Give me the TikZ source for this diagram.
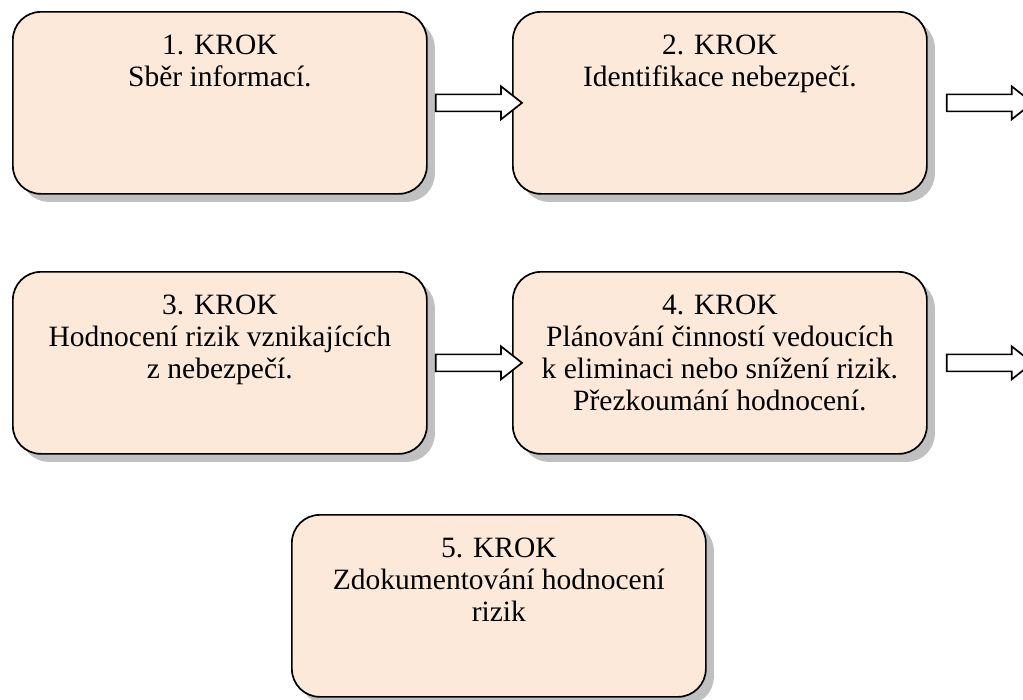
\documentclass[tikz,border=0pt]{standalone}
\usepackage{fontspec}
\setmainfont{Liberation Serif}
\usetikzlibrary{calc,shadows}
\definecolor{boxfill}{HTML}{FDE9D9}
\definecolor{shadowgray}{HTML}{C0C0C0}
\tikzset{
  krokbox/.style={draw=black, line width=1.7pt, fill=boxfill, rounded corners=28pt,
    minimum width=414pt, minimum height=182pt, inner sep=0pt, anchor=north west,
    drop shadow={shadow xshift=8pt, shadow yshift=-8pt, fill=shadowgray, opacity=1}},
  kroktext/.style={anchor=north, align=center, inner sep=0pt,
    font=\fontsize{29.5}{32}\selectfont},
  blockarrow/.style={draw=black, line width=1.7pt, fill=white, line join=miter}
}
\newcommand{\barrow}[2]{%
  \draw[blockarrow] let \p1=(#1), \p2=(#2) in
    (\x1,\y1+8.5pt) -- (\x2-21pt,\y1+8.5pt) -- (\x2-21pt,\y1+16.5pt) -- (\x2,\y1)
    -- (\x2-21pt,\y1-16.5pt) -- (\x2-21pt,\y1-8.5pt) -- (\x1,\y1-8.5pt) -- cycle;}
\begin{document}
\begin{tikzpicture}[x=1pt,y=-1pt]
\useasboundingbox (0,0) rectangle (1023,699);
\clip (0,0) rectangle (1023,699);
\node[krokbox] (b1) at (12,11) {};
\node[krokbox] (b2) at (512,11) {};
\node[krokbox] (b3) at (12,271) {};
\node[krokbox] (b4) at (512,271) {};
\node[krokbox] (b5) at (291,514) {};
\node[kroktext] (t1) at ($(b1.north)+(0,24)$) {1. KROK\\Sběr informací.};
\node[kroktext] (t2) at ($(b2.north)+(0,24)$) {2. KROK\\Identifikace nebezpečí.};
\node[kroktext] (t3) at ($(b3.north)+(0,24)$) {3. KROK\\Hodnocení rizik vznikajících\\z nebezpečí.};
\node[kroktext] (t4) at ($(b4.north)+(0,24)$) {4. KROK\\Plánování činností vedoucích\\k eliminaci nebo snížení rizik.\\Přezkoumání hodnocení.};
\node[kroktext] (t5) at ($(b5.north)+(0,24)$) {5. KROK\\Zdokumentování hodnocení\\rizik};
\coordinate (a1s) at ($(b1.east)+(8,0)$);
\coordinate (a1e) at ($(b2.west)+(10,0)$);
\coordinate (a2s) at ($(b2.east)+(19,0)$);
\coordinate (a2e) at ($(b2.east)+(105,0)$);
\coordinate (a3s) at ($(b3.east)+(8,0)$);
\coordinate (a3e) at ($(b4.west)+(10,0)$);
\coordinate (a4s) at ($(b4.east)+(19,0)$);
\coordinate (a4e) at ($(b4.east)+(105,0)$);
\barrow{a1s}{a1e}
\barrow{a2s}{a2e}
\barrow{a3s}{a3e}
\barrow{a4s}{a4e}
\end{tikzpicture}
\end{document}
